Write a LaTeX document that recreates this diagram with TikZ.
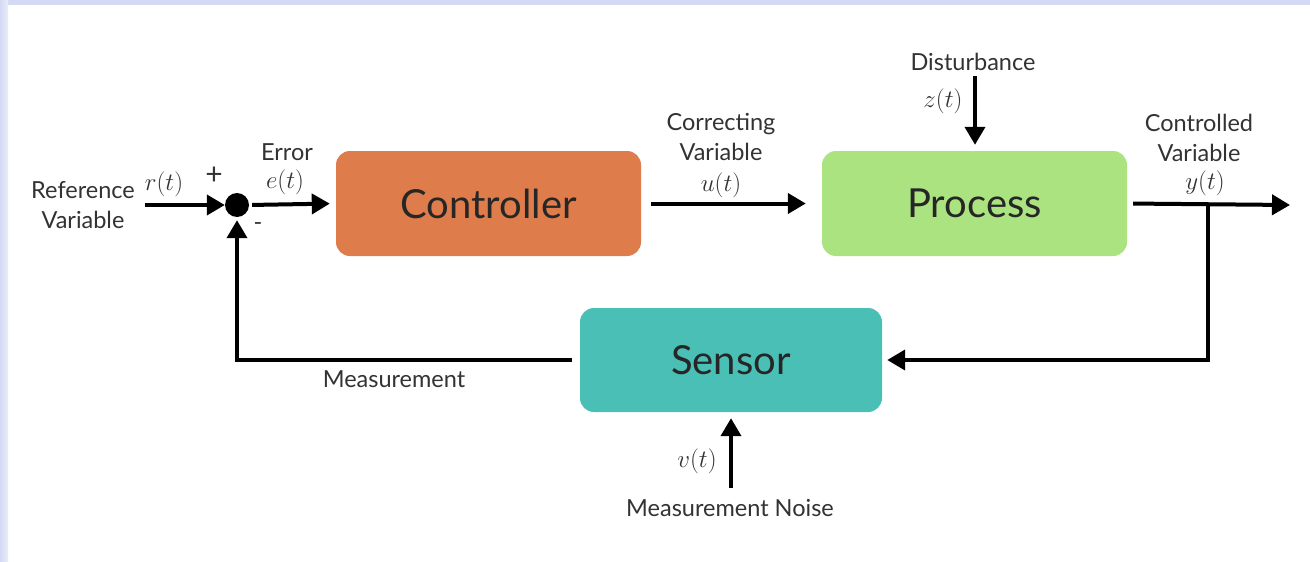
\documentclass[tikz,border=0pt]{standalone}
\usepackage{fix-cm}
\usepackage{fontspec}
\setmainfont{Lato}
\usetikzlibrary{arrows.meta}
\definecolor{ctrlc}{HTML}{DE7D4B}
\definecolor{procc}{HTML}{AAE37F}
\definecolor{sensc}{HTML}{4ABFB5}
\definecolor{lav}{HTML}{D4DAF4}
\definecolor{txt}{HTML}{333333}
\begin{document}
\begin{tikzpicture}[x=1pt,y=-1pt,
  blk/.style={rounded corners=14pt, minimum width=305pt, minimum height=105pt, inner sep=0pt,
    font=\fontsize{40}{42}\selectfont, text=black!85},
  lbl/.style={font=\fontsize{23.5}{30}\selectfont, text=txt, inner sep=0pt, align=center},
  mth/.style={font=\fontsize{25}{28}\selectfont, text=txt, inner sep=0pt},
  conn/.style={line width=4pt, -{Triangle[length=18pt,width=20pt]}},
  wire/.style={line width=4pt}]
\useasboundingbox (0,0) rectangle (1310,562);
\fill[white] (0,0) rectangle (1310,562);
\fill[lav] (0,0) rectangle (1310,5);
\fill[left color=lav, right color=lav!50] (0,0) rectangle (8,562);

% blocks
\node[blk, fill=ctrlc] (ctrl) at (488.5,203.5) {Controller};
\node[blk, fill=procc] (proc) at (974.5,203.5) {Process};
\node[blk, fill=sensc, minimum width=302pt, minimum height=104pt] (sens) at (731,360) {Sensor};
\node[circle, fill=black, minimum size=24pt, inner sep=0pt] (sum) at (237,205) {};

% coordinates
\coordinate (rin) at (145,205);
\coordinate (yout) at (1290,205);
\coordinate (br) at (1208,205);
\coordinate (zin) at (975,76);
\coordinate (vin) at (731,488);

% labels
\node[lbl] (refl) at (83,205) {Reference\\Variable};
\node[mth] (rl) at (164,184) {$r(t)$};
\node[lbl, font=\fontsize{30}{30}\selectfont] (plus) at (214,176) {+};
\node[lbl] (minus) at (258,227) {-};
\node[lbl] (errl) at (287,152) {Error};
\node[mth] (el) at (285,182) {$e(t)$};
\node[lbl] (corl) at (721,137) {Correcting\\Variable};
\node[mth] (ul) at (721,185) {$u(t)$};
\node[lbl] (conl) at (1199,138) {Controlled\\Variable};
\node[mth] (yl) at (1205,183) {$y(t)$};
\node[lbl] (dist) at (973,62) {Disturbance};
\node[mth] (zl) at (943,101) {$z(t)$};
\node[lbl] (noise) at (730,508) {Measurement Noise};
\node[mth] (vl) at (697,461) {$v(t)$};
\node[lbl] (meas) at (394,379) {Measurement};

% connectors
\draw[conn] (rin) -- (sum.west);
\draw[conn, shorten <=3pt, shorten >=6pt] (sum.east) -- (ctrl.west);
\draw[conn, shorten <=10pt, shorten >=16pt] (ctrl.east) -- (proc.west);
\draw[conn, shorten <=6pt] (proc.east) -- (yout);
\draw[conn, shorten >=5pt] (br) |- (sens.east);
\draw[conn, shorten >=3pt] ([xshift=-8pt]sens.west) -| (sum.south);
\draw[conn, shorten >=6pt] (zin) -- (zin |- proc.north);
\draw[conn, shorten >=6pt] (vin) -- (vin |- sens.south);
\end{tikzpicture}
\end{document}
